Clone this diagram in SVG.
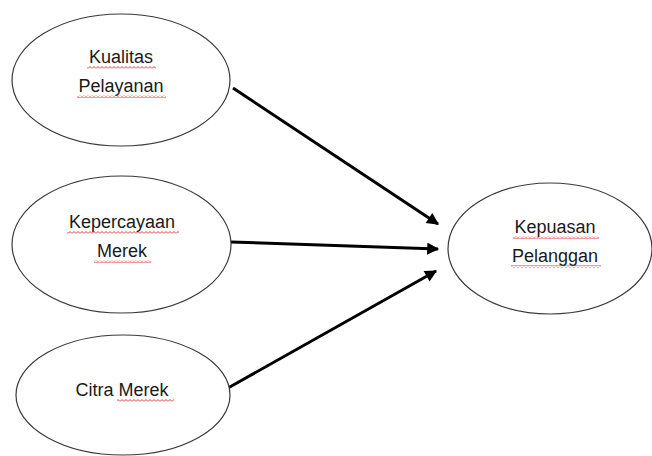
<svg xmlns="http://www.w3.org/2000/svg" width="652" height="456" viewBox="0 0 652 456">
<style>
.node ellipse{fill:#fff;stroke:#3a3a3a;stroke-width:1.2}
.node text{font-family:"Liberation Sans",Arial,sans-serif;font-size:18px;fill:#1a1a1a;text-anchor:middle}
.edge{stroke:#000;stroke-width:3;fill:none;marker-end:url(#ah)}
.wavy{fill:url(#wv)}
</style>
<defs>
<marker id="ah" viewBox="0 0 10 10" refX="9" refY="5" markerWidth="4.5" markerHeight="4" orient="auto" markerUnits="strokeWidth">
<path d="M0,0 L10,5 L0,10 z" fill="#000"/>
</marker>
<pattern id="wv" width="4" height="3" patternUnits="userSpaceOnUse">
<path d="M0,2.5 L2,0.5 L4,2.5" fill="none" stroke="#e02020" stroke-width="0.9"/>
</pattern>
</defs>
<rect width="652" height="456" fill="#fff"/>
<g id="connectors">
<line class="edge" x1="233" y1="88" x2="438" y2="224"/>
<line class="edge" x1="231" y1="242" x2="438" y2="249"/>
<line class="edge" x1="228" y1="388" x2="436" y2="271"/>
</g>
<g id="kualitas" class="node">
<ellipse cx="121" cy="80" rx="109" ry="66"/>
<text x="121" y="63">Kualitas</text>
<text x="121" y="92">Pelayanan</text>
<rect class="wavy" x="87" y="66" width="69" height="3"/>
<rect class="wavy" x="77" y="95" width="89" height="3"/>
</g>
<g id="kepercayaan" class="node">
<ellipse cx="121.5" cy="244.5" rx="109.5" ry="68.5"/>
<text x="122" y="228">Kepercayaan</text>
<text x="122" y="257">Merek</text>
<rect class="wavy" x="67" y="231" width="112" height="3"/>
<rect class="wavy" x="94" y="260" width="57" height="3"/>
</g>
<g id="citra" class="node">
<ellipse cx="123" cy="395" rx="107" ry="60"/>
<text x="122" y="396">Citra Merek</text>
<rect class="wavy" x="117" y="399" width="57" height="3"/>
</g>
<g id="kepuasan" class="node">
<ellipse cx="550" cy="248.5" rx="102" ry="65.5"/>
<text x="555" y="233">Kepuasan</text>
<text x="555" y="262">Pelanggan</text>
<rect class="wavy" x="513" y="236" width="86" height="3"/>
<rect class="wavy" x="511" y="265" width="90" height="3"/>
</g>
</svg>
